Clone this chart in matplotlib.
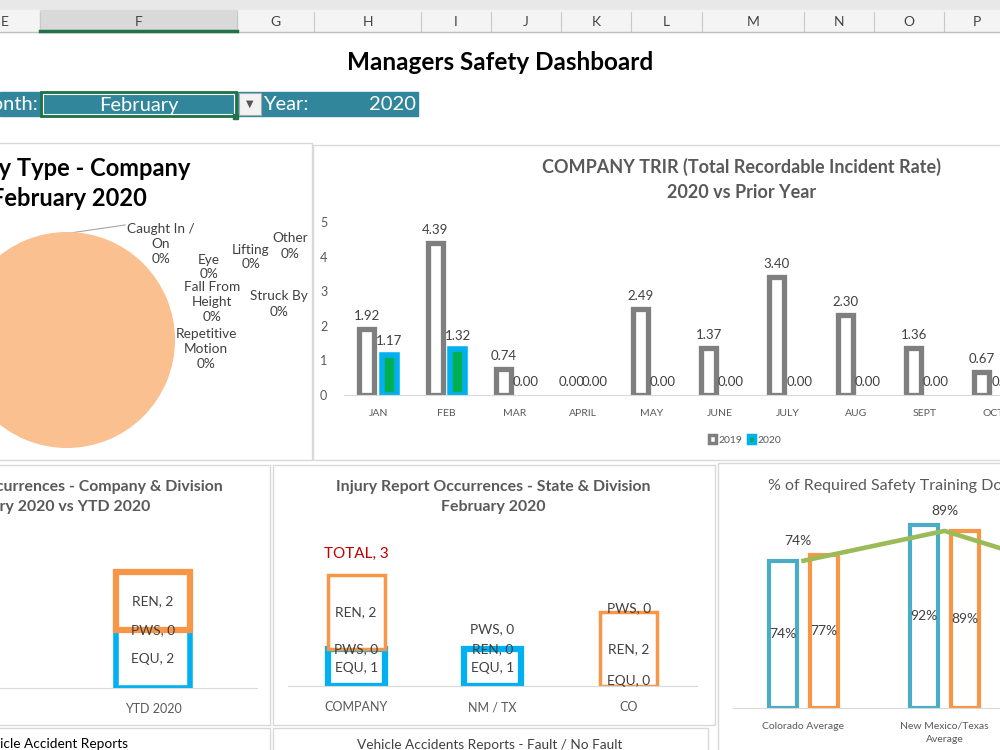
import numpy as np
import matplotlib.pyplot as plt
from matplotlib.patches import Rectangle, Patch

plt.rcParams['font.family'] = ['Lato', 'DejaVu Sans']

# ---- data ----
col_letters = ['E', 'F', 'G', 'H', 'I', 'J', 'K', 'L', 'M', 'N', 'O', 'P']
sel_month = 'February'
sel_year = '2020'

pie_types = ['Caught In /\nOn', 'Eye', 'Fall From\nHeight', 'Lifting', 'Other',
             'Repetitive\nMotion', 'Slips / Trips', 'Struck By']
pie_pct = [0, 0, 0, 0, 0, 0, 100, 0]

trir_months = ['JAN', 'FEB', 'MAR', 'APRIL', 'MAY', 'JUNE', 'JULY', 'AUG', 'SEPT', 'OCT']
trir_2019 = [1.92, 4.39, 0.74, 0.00, 2.49, 1.37, 3.40, 2.30, 1.36, 0.67]
trir_2020 = [1.17, 1.32, 0.00, 0.00, 0.00, 0.00, 0.00, 0.00, 0.00, 0.00]

ytd_cats = ['YTD 2020']
ytd_equ = [2]
ytd_pws = [0]
ytd_ren = [2]

state_cats = ['COMPANY', 'NM / TX', 'CO']
state_equ = [1, 1, 0]
state_pws = [0, 0, 0]
state_ren = [2, 0, 2]

train_cats = ['Colorado Average', 'New Mexico/Texas\nAverage']
train_blue = [74, 92]
train_orange = [77, 89]
train_line = [74, 89, 67]

# ---- layout helpers (pixel boxes on a 1000x750 canvas) ----
W, H = 1000, 750
fig = plt.figure(figsize=(10, 7.5), dpi=100)


def box(x0, y0, x1, y1):
    return [x0 / W, 1 - y1 / H, (x1 - x0) / W, (y1 - y0) / H]


bg = fig.add_axes([0, 0, 1, 1], zorder=0)
bg.set_xlim(0, W)
bg.set_ylim(H, 0)
bg.axis('off')

GRAY_TXT = '#595959'
DARK_TXT = '#404040'

# excel column header strip
bg.add_patch(Rectangle((0, 0), W, 10, color='#E8E8E8'))
bg.add_patch(Rectangle((0, 10), W, 22, color='#F4F4F4'))
bounds = [-40, 40, 237, 314, 421, 491, 561, 631, 702, 804, 874, 944, 1010]
bg.add_patch(Rectangle((40, 10), 197, 22, color='#D9D9D9'))
for b in bounds[1:-1]:
    bg.plot([b, b], [12, 32], color='#C8C8C8', lw=0.8)
bg.plot([0, W], [32, 32], color='#BFBFBF', lw=1)
bg.plot([40, 237], [31, 31], color='#217346', lw=2.5)
for i, c in enumerate(col_letters):
    cx = (bounds[i] + bounds[i + 1]) / 2
    bg.text(max(cx, 5), 22, c, ha='center', va='center', fontsize=10,
            color='#444444')

bg.text(500, 62, 'Managers Safety Dashboard', ha='center', va='center',
        fontsize=17.5, fontweight='bold', color='black')

# month / year selector row
bg.add_patch(Rectangle((0, 92), 418, 24, color='#31869B'))
bg.add_patch(Rectangle((41, 92), 195, 24, fill=False, ec='#217346', lw=2))
bg.add_patch(Rectangle((43, 94), 191, 20, fill=False, ec='white', lw=0.8))
bg.add_patch(Rectangle((233, 114), 5, 5, color='#217346'))
bg.add_patch(Rectangle((239, 93), 22, 22, fc='#F2F2F2', ec='#ABABAB', lw=0.8))
bg.text(250, 104, '▼', ha='center', va='center', fontsize=7, color='#555555',
        family=['DejaVu Sans'])
bg.text(38, 105, 'Month:', ha='right', va='center', fontsize=14.5, color='white')
bg.text(139, 105, sel_month, ha='center', va='center', fontsize=14.5, color='white')
bg.text(263, 105, 'Year:', ha='left', va='center', fontsize=14.5, color='white')
bg.text(416, 105, sel_year, ha='right', va='center', fontsize=14.5, color='white')

# panel borders
for x0, y0, x1, y1 in [(-5, 143, 312, 460), (313, 145, 1005, 460),
                       (-5, 465, 270, 725), (273, 465, 715, 725),
                       (718, 463, 1005, 755), (-5, 728, 270, 755),
                       (273, 728, 708, 755)]:
    bg.add_patch(Rectangle((x0, y0), x1 - x0, y1 - y0, fill=False,
                           ec='#D9D9D9', lw=1))

# ---- pie: injury type (left part of the panel is off screen) ----
bg.text(190, 168, 'Injury Type - Company', ha='right', va='center',
        fontsize=17, fontweight='bold', color='black')
bg.text(147, 199, 'February 2020', ha='right', va='center',
        fontsize=17, fontweight='bold', color='black')
axp = fig.add_axes(box(-41, 232, 175, 448), zorder=1)
axp.pie(pie_pct, colors=['#FAC090'] * len(pie_pct), startangle=90,
        counterclock=False, radius=1)
axp.set_xlim(-1, 1)
axp.set_ylim(-1, 1)
# excel's label spots for the pie
pie_label_xy = [(161, 244), (209, 267), (212, 302), (251, 257), (290, 246),
                (206, 349), (68, 395), (279, 304)]
for name, pct, (lx, ly) in zip(pie_types, pie_pct, pie_label_xy):
    bg.text(lx, ly, f'{name}\n{pct}%', ha='center', va='center', fontsize=9.8,
            color=DARK_TXT, linespacing=1.3, zorder=3)
bg.plot([70, 125], [233, 225], color='#A6A6A6', lw=0.8)

# ---- TRIR bars ----
bg.text(742, 167, 'COMPANY TRIR (Total Recordable Incident Rate)', ha='center',
        va='center', fontsize=13, fontweight='bold', color=GRAY_TXT)
bg.text(742, 192, '2020 vs Prior Year', ha='center', va='center',
        fontsize=13, fontweight='bold', color=GRAY_TXT)
axt = fig.add_axes(box(344, 215, 1164, 395), zorder=1)
x = np.arange(len(trir_months))
b19 = axt.bar(x - 0.165, trir_2019, 0.22, color='white', edgecolor='#7F7F7F', lw=3.8)
b20 = axt.bar(x + 0.165, trir_2020, 0.22, color='#00B050', edgecolor='#00B0F0', lw=4)
for b in list(b19) + list(b20):
    if b.get_height() == 0:
        b.set_visible(False)
axt.bar_label(b19, fmt='%.2f', padding=5, fontsize=9.5, color=DARK_TXT)
for xi, v in zip(x, trir_2020):
    axt.annotate(f'{v:.2f}', (xi + 0.165, v), xytext=(0, 9.5),
                 textcoords='offset points', ha='center', va='center',
                 fontsize=9.5, color=DARK_TXT)
axt.set_xlim(-0.5, 11.5)
axt.set_ylim(0, 180 / 34.6)
axt.set_yticks(range(6))
axt.set_xticks(x, trir_months)
axt.tick_params(axis='y', length=0, pad=12, labelsize=9, labelcolor=GRAY_TXT)
axt.tick_params(axis='x', length=0, pad=10, labelsize=7.5, labelcolor=GRAY_TXT)
for s in ['top', 'right', 'left']:
    axt.spines[s].set_visible(False)
axt.spines['bottom'].set_color('#D9D9D9')
axt.patch.set_alpha(0)
fig.legend(handles=[Patch(fc='white', ec='#7F7F7F', lw=2.5, label='2019'),
                    Patch(fc='#00B050', ec='#00B0F0', lw=2.5, label='2020')],
           loc='center', bbox_to_anchor=(745 / W, 1 - 440 / H), ncol=2,
           frameon=False, fontsize=7.5, handlelength=0.7, handleheight=0.7,
           handletextpad=0.2, columnspacing=0.6, labelcolor=GRAY_TXT)


def stacked(ax, cats, equ, pws, ren, width, lw_equ, lw_ren, nudge):
    xs = np.arange(len(cats))
    bottom = np.zeros(len(cats))
    for name, vals, ec, lw in [('EQU', equ, '#00B0F0', lw_equ),
                               ('PWS', pws, '#A5A5A5', lw_equ),
                               ('REN', ren, '#F79646', lw_ren)]:
        vals = np.array(vals, dtype=float)
        bars = ax.bar(xs, vals, width, bottom=bottom, color='white',
                      edgecolor=ec, lw=lw)
        for b, v in zip(bars, vals):
            if v == 0:
                b.set_visible(False)
        for i, (xi, v, b0) in enumerate(zip(xs, vals, bottom)):
            ax.annotate(f'{name}, {int(v)}', (xi, b0 + v / 2),
                        xytext=(0, nudge.get((i, name), 0) * 0.72),
                        textcoords='offset points', ha='center', va='center',
                        fontsize=9.8, color=DARK_TXT, zorder=5)
        bottom = bottom + vals
    return xs, bottom


# ---- company & division, YTD ----
bg.text(50, 487, 'Injury Report Occurrences - Company & Division', ha='center',
        va='center', fontsize=11.4, fontweight='bold', color=GRAY_TXT)
bg.text(50, 507, 'February 2020 vs YTD 2020', ha='center', va='center',
        fontsize=11.4, fontweight='bold', color=GRAY_TXT)
axy = fig.add_axes(box(-159, 540, 257, 688), zorder=1)
xs, tot = stacked(axy, ytd_cats, ytd_equ, ytd_pws, ytd_ren, 0.36, 4, 4.5, {})
axy.set_xlim(-1.5, 0.5)
axy.set_ylim(0, 148 / 29)
axy.set_xticks(xs, ytd_cats)
axy.set_yticks([])

# ---- state & division ----
bg.text(493, 487, 'Injury Report Occurrences - State & Division', ha='center',
        va='center', fontsize=11.4, fontweight='bold', color=GRAY_TXT)
bg.text(493, 507, 'February 2020', ha='center', va='center',
        fontsize=11.4, fontweight='bold', color=GRAY_TXT)
axs = fig.add_axes(box(288, 540, 697, 686), zorder=1)
# pixel nudges excel used to keep the zero labels apart
state_nudge = {(1, 'PWS'): 20, (2, 'PWS'): 78, (2, 'EQU'): 5}
xs, tot = stacked(axs, state_cats, state_equ, state_pws, state_ren, 0.42, 4.5, 2.5,
                  state_nudge)
axs.annotate(f'TOTAL, {int(tot[0])}', (xs[0], tot[0]), xytext=(0, 15),
             textcoords='offset points', ha='center', va='center',
             fontsize=11, color='#C00000')
axs.set_xlim(-0.5, 2.5)
axs.set_ylim(0, 146 / 37)
axs.set_xticks(xs, state_cats)
axs.set_yticks([])

for ax in (axy, axs):
    ax.tick_params(axis='x', length=0, pad=11, labelsize=9, labelcolor=GRAY_TXT)
    for s in ['top', 'right', 'left']:
        ax.spines[s].set_visible(False)
    ax.spines['bottom'].set_color('#D9D9D9')
    ax.patch.set_alpha(0)

# ---- safety training ----
bg.text(768, 486, '% of Required Safety Training Done', ha='left', va='center',
        fontsize=11.5, color=GRAY_TXT)
axr = fig.add_axes(box(733, 500, 1156, 708), zorder=1)
xr = np.arange(len(train_cats))
bb = axr.bar(xr - 0.145, train_blue, 0.2, color='white', edgecolor='#4BACC6', lw=3)
bo = axr.bar(xr + 0.145, train_orange, 0.2, color='white', edgecolor='#F79646', lw=3)
for bars, vals in [(bb, train_blue), (bo, train_orange)]:
    for b, v in zip(bars, vals):
        axr.text(b.get_x() + b.get_width() / 2, v / 2, f'{v}%', ha='center',
                 va='center', fontsize=10, color=DARK_TXT)
xl = np.arange(len(train_line))
axr.plot(xl, train_line, color='#9BBB59', lw=3.3, solid_joinstyle='round')
for xi, v in zip(xl, train_line):
    axr.annotate(f'{v}%', (xi, v), xytext=(-4 if xi == 0 else 0, 14),
                 textcoords='offset points', ha='center', va='center',
                 fontsize=10, color=DARK_TXT)
axr.set_xlim(-0.5, 2.5)
axr.set_ylim(0, 208 / 1.99)
axr.set_xticks(xr, train_cats)
axr.set_yticks([])
axr.tick_params(axis='x', length=0, pad=10, labelsize=7.5, labelcolor=GRAY_TXT)
for lab in axr.get_xticklabels():
    lab.set_linespacing(1.6)
for s in ['top', 'right', 'left']:
    axr.spines[s].set_visible(False)
axr.spines['bottom'].set_color('#D9D9D9')
axr.patch.set_alpha(0)

# next row of panels, cut off by the window
bg.text(128, 744, 'Vehicle Accident Reports', ha='right', va='center',
        fontsize=9.8, color='black')
bg.text(490, 745, 'Vehicle Accidents Reports - Fault / No Fault', ha='center',
        va='center', fontsize=9.8, color=DARK_TXT)

fig.savefig('out.png', dpi=100)
